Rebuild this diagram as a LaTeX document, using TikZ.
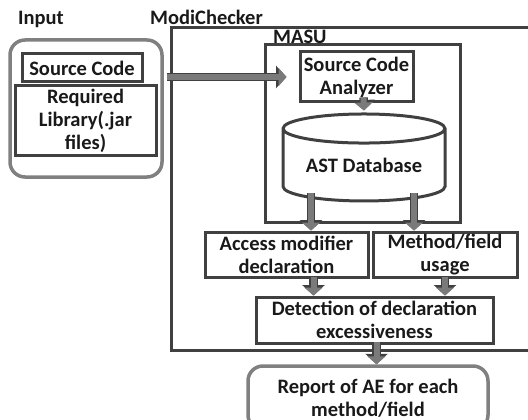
\documentclass[tikz,border=0pt]{standalone}
\usepackage{fontspec}
\setmainfont{Carlito}
\usetikzlibrary{arrows.meta,shapes.geometric,positioning}
\definecolor{boxline}{HTML}{404040}
\definecolor{softline}{HTML}{808080}
\definecolor{arrowfill}{HTML}{7A7A7A}
\tikzset{
x=1pt, y=-1pt, % pixel-like units, y downwards
every node/.style={font=\fontsize{20.5}{23}\selectfont\bfseries, text=black!90},
my box/.style={draw=boxline, line width=3pt, rectangle, align=center, inner sep=0pt},
my group/.style={draw=softline, line width=3.5pt, rectangle, rounded corners=15pt, align=center, inner sep=0pt},
my db/.style={draw=boxline, line width=3pt, cylinder, shape border rotate=90, aspect=0.25, inner sep=0pt},
my size/.style 2 args={minimum width=#1pt, minimum height=#2pt},
fat/.style={draw=arrowfill, line width=6pt, -{Triangle[length=8pt,width=18pt]},
  preaction={draw=boxline, line width=8.5pt, -{Triangle[length=10.5pt,width=22pt]}}},
}

\begin{document}
\begin{tikzpicture}
\useasboundingbox (0,0) rectangle (528,420);
\clip (0,0) rectangle (528,420);
% frames
\node[my box, my size={430}{322}] (modi) at (386,189) {};
\node[my box, my size={195}{177}] (masu) at (362.5,133.5) {};
\node[my group, my size={152}{137}] (input) at (86,108.5) {};
% titles
\node[anchor=base west, inner sep=0pt] (tin) at (18,25) {Input};
\node[anchor=base west, inner sep=0pt] (tmodi) at (150,25) {ModiChecker};
\node[anchor=base west, inner sep=0pt] (tmasu) at (273,44) {MASU};
% input
\node[my box, my size={120}{28}] (src) at (82,68) {Source Code};
\node[my box, my size={141}{69}] (lib) at (85.5,120.5) {Required\\Library(.jar\\files)};
% MASU
\node[my box, my size={113}{50}] (sca) at (356.5,77) {Source Code\\Analyzer};
\node[my db, my size={162}{87}] (db) at (364,165.5) {AST Database};
% checks
\node[my box, my size={163}{45}] (acc) at (286.5,254.5) {Access modifier\\declaration};
\node[my box, my size={144}{45}] (use) at (445,254.5) {Method/field\\usage};
\node[my box, my size={237}{46}] (det) at (374.5,320) {Detection of declaration\\excessiveness};
% output
\node[my group, my size={240}{64}] (rep) at (368,398) {Report of AE for each\\method/field};
% arrows
\draw[fat, shorten <=3pt] (input.east |- sca.west) -- ([xshift=-12pt]sca.west);
\draw[fat] ([xshift=7pt,yshift=6pt]sca.south) -- ([yshift=2pt]db.north);
\draw[fat] ([xshift=-53pt,yshift=9pt]db.south) -- ([xshift=-53pt]db.south |- acc.north);
\draw[fat] ([xshift=50pt,yshift=9pt]db.south) -- ([xshift=50pt]db.south |- use.north);
\draw[fat] ([xshift=27pt,yshift=2pt]acc.south) -- ([xshift=27pt]acc.south |- det.north);
\draw[fat] ([yshift=2pt]use.south) -- (use.south |- det.north);
\draw[fat] ([xshift=2pt,yshift=3pt]det.south) -- ([xshift=2pt]det.south |- rep.north);
\end{tikzpicture}
\end{document}
